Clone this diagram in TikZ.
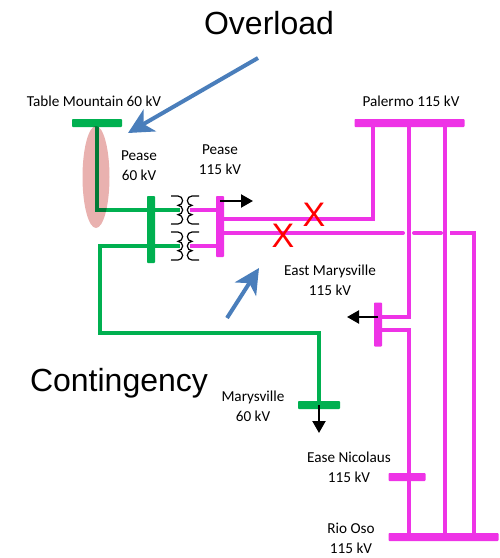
\documentclass[tikz,border=0pt]{standalone}
\usepackage{fontspec}
\setmainfont{Carlito}
\newfontfamily\bigfont{Liberation Sans}
\usetikzlibrary{arrows.meta,shapes.geometric}
\definecolor{busgreen}{HTML}{00B050}
\definecolor{busmagenta}{HTML}{EE33E6}
\definecolor{callblue}{HTML}{4A7EBB}
\definecolor{zonepink}{HTML}{E9B1AF}
\tikzset{
	hbus/.style	= {rectangle, inner sep=0pt, minimum height=8pt, rounded corners=0.8pt},
	vbus/.style	= {rectangle, inner sep=0pt, minimum width=8pt, rounded corners=0.8pt},
	lowline/.style	= {draw=busgreen, line width=4pt},
	highline/.style	= {draw=busmagenta, line width=4pt},
	loadarrow/.style = {draw=black, line width=2.2pt, -{Triangle[length=12pt,width=13pt]}},
	callarrow/.style = {draw=callblue, line width=4pt, -{Stealth[length=25pt,width=25pt,inset=7pt]}},
	buslabel/.style	= {align=center, font=\fontsize{15.2}{20}\selectfont, inner sep=0pt},
	biglabel/.style	= {font=\bigfont\fontsize{32}{36}\selectfont, inner sep=0pt},
	cross/.style	= {text=red, font=\bigfont\fontsize{34}{36}\selectfont, inner sep=0pt},
	winding/.style	= {draw=black, line width=1.2pt}
}
\newcommand{\Windings}[1]{
	\draw[winding] (171,#1-14) -- (178,#1-14)
		arc[start angle=-90, end angle=90, radius=4.67]
		arc[start angle=-90, end angle=90, radius=4.67]
		arc[start angle=-90, end angle=90, radius=4.67] -- (171,#1+14);
	\draw[winding] (199,#1-14) -- (192,#1-14)
		arc[start angle=-90, end angle=-270, radius=4.67]
		arc[start angle=-90, end angle=-270, radius=4.67]
		arc[start angle=-90, end angle=-270, radius=4.67] -- (199,#1+14);
}
\begin{document}
\begin{tikzpicture}[x=1pt, y=-1pt]
	\useasboundingbox (0,0) rectangle (500,558);
	
	% buses
	\node[hbus, fill=busgreen, minimum width=50pt] (tablemtn) at (97,123) {};
	\node[vbus, fill=busgreen, minimum height=67pt] (pease60) at (151,229.5) {};
	\node[vbus, fill=busmagenta, minimum height=61pt] (pease115) at (220,226.5) {};
	\node[hbus, fill=busgreen, minimum width=42pt] (marysville) at (319,405) {};
	\node[hbus, fill=busmagenta, minimum width=110pt] (palermo) at (409.5,123) {};
	\node[vbus, fill=busmagenta, minimum height=44pt] (eastmary) at (378,324.5) {};
	\node[hbus, fill=busmagenta, minimum width=37pt] (nicolaus) at (407,477) {};
	\node[hbus, fill=busmagenta, minimum width=110pt] (riooso) at (443.5,537) {};
	
	% tap points
	\coordinate (x1) at (180,210);
	\coordinate (x2) at (180,246);
	\coordinate (x3) at (190,210);
	\coordinate (x4) at (190,246);
	\coordinate (t3) at (220,210);
	\coordinate (t4) at (220,246);
	\coordinate (t5) at (220,219);
	\coordinate (t6) at (220,233);
	\coordinate (p1) at (373,123);
	\coordinate (p2) at (409,123);
	\coordinate (p3) at (445,123);
	\coordinate (r1) at (409,537);
	\coordinate (r2) at (445,537);
	\coordinate (r3) at (474,537);
	\coordinate (e1) at (378,317);
	\coordinate (e2) at (378,330);
	\coordinate (d1) at (403,233);
	\coordinate (d2) at (414,233);
	\coordinate (d3) at (441,233);
	\coordinate (d4) at (450,233);
	\coordinate (w1) at (100,246);
	\coordinate (w2) at (100,333);
	\coordinate (w3) at (319,333);
	\coordinate (l1) at (253,201);
	\coordinate (l2) at (220,201);
	\coordinate (l3) at (347,317);
	\coordinate (l4) at (319,433);
	
	% green lines
	\draw[lowline] (tablemtn.center) |- (x1);
	\draw[lowline, line join=miter] (x2) -- (w1) -- (w2) -- (w3) -- (marysville.center);
	
	% magenta lines
	\draw[highline] (x3) -- (t3);
	\draw[highline] (x4) -- (t4);
	\draw[highline] (t5) -| (p1);
	\draw[highline, line cap=round] (t6) -- (d1);
	\draw[highline, line cap=round] (d2) -- (d3);
	\draw[highline] (d4) -| (r3);
	\draw[highline] (p2) |- (e1);
	\draw[highline] (e2) -| (r1);
	\draw[highline] (p3) -- (r2);
	
	% transformers
	\Windings{210}
	\Windings{246}
	
	% loads
	\draw[loadarrow] (l2) -- (l1);
	\draw[loadarrow] (e1) -- (l3);
	\draw[loadarrow] (marysville.center) -- (l4);
	
	% overload mark
	\node[ellipse, fill=zonepink, blend mode=multiply, minimum width=27pt, minimum height=102pt, inner sep=0pt] (overzone) at (96,177) {};
	
	\node[cross] (cross1) at (314,215) {X};
	\node[cross] (cross2) at (283,236) {X};
	
	% labels
	\node[biglabel] (overload) at (269,23) {Overload};
	\node[biglabel] (contingency) at (119,383) {Contingency};
	\node[buslabel] at (94,101) {Table Mountain 60 kV};
	\node[buslabel] at (139,166) {Pease\\60 kV};
	\node[buslabel] at (220,160) {Pease\\115 kV};
	\node[buslabel] at (411,101) {Palermo 115 kV};
	\node[buslabel] at (330,280) {East Marysville\\115 kV};
	\node[buslabel] at (253,406) {Marysville\\60 kV};
	\node[buslabel] at (349,467) {Ease Nicolaus\\115 kV};
	\node[buslabel] at (351,538) {Rio Oso\\115 kV};
	
	% call outs
	\coordinate (o1) at (258,58);
	\coordinate (o2) at (128,133);
	\coordinate (c1) at (227,318);
	\coordinate (c2) at (259,268);
	\draw[callarrow] (o1) -- (o2);
	\draw[callarrow] (c1) -- (c2);
\end{tikzpicture}
\end{document}
